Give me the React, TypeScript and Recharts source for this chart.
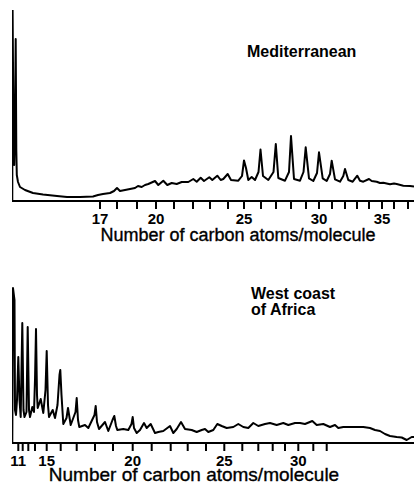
import React from 'react';
import { LineChart, Line, XAxis, YAxis } from 'recharts';

// Mediterranean trace: retention (arbitrary units) and detector signal
const medRt = [
  0.3, 0.6, 1.4, 2.2, 3.0, 3.7, 4.3, 4.8, 6, 8, 13, 21, 31, 45, 55, 68, 81, 86, 91, 98,
  102, 105, 108, 113, 118, 123, 126, 129.7, 133, 136.3, 143, 146.3, 151.3, 155.3, 159.7, 164.7, 169.7, 176.3, 181.3, 184.7,
  188.7, 192, 197.3, 200.3, 205.3, 208.7, 211.3, 215.7, 219, 226.3, 230, 232, 234, 236.3, 239.7, 243, 246.5, 248.5, 251, 256.3,
  261.5, 263.8, 266.3, 273, 277, 279, 282, 288, 291.5, 293.7, 297, 301.3, 305, 307, 310.7, 314.7, 318, 319.7, 323, 328,
  331.3, 333, 336.3, 340.7, 345.3, 348, 351.3, 357, 359.7, 364.7, 368, 371.3, 378, 382, 384.7, 391.3, 398, 402,
];
const medSignal = [
  0, 191, 81, 36, 81, 162, 51, 26, 19, 14, 11, 8, 6.5, 5, 4, 4, 4.5, 6, 7, 8,
  10, 13, 10, 11, 12, 13, 15, 14, 16, 17, 20, 16, 20.3, 16, 18, 17, 19, 19, 22, 19.3,
  23.3, 20, 23.7, 21, 25.3, 21, 22, 27, 21, 20.3, 25, 40.5, 33, 21, 24, 21, 29, 51.5, 25, 21,
  29, 57, 23, 20.3, 29, 65, 22, 20.3, 29, 53.7, 22.7, 20, 28, 48.7, 22.7, 20, 27, 40.3, 21.7, 19.3,
  25, 32, 21, 19.3, 25.3, 20.3, 19.3, 22, 20, 19.3, 18, 18.3, 16.7, 17.5, 17, 15.3, 15, 14.5,
];

// West coast of Africa trace
const wcaRt = [
  0.3, 1, 2.5, 3, 4, 5, 6.3, 7.5, 8.7, 10.3, 11.5, 12.5, 14.5, 15.7, 17, 18, 20.3, 22, 23, 24,
  25, 25.7, 28.7, 31.3, 33.5, 34.7, 36, 37, 40.7, 43, 45.5, 47.5, 48.3, 49.5, 51.3, 54.5, 56, 58.7, 63.5, 64.7,
  66, 67.3, 73, 76.3, 82.5, 83.7, 85, 87, 93, 96.3, 100.5, 102.3, 104, 105.3, 111.3, 116.3, 119.5, 120.7, 122, 124.7,
  128, 132, 134.7, 138.7, 143, 146.3, 151.3, 158, 161.3, 164.7, 169, 173, 179.7, 184.7, 189.7, 193, 196.3, 201.3, 205.3, 209.7,
  214.7, 221.3, 226.3, 231.3, 236.3, 241.3, 246.3, 253, 258, 264.7, 271.3, 276.3, 283, 288, 293, 300.3, 304.7, 311.3, 318, 323,
  326.3, 331.3, 338, 344.7, 351.3, 358, 363, 368, 373, 378, 384.7, 389.7, 394.7, 399.7, 402,
];
const wcaSignal = [
  0, 155, 143, 33, 28, 43, 86, 43, 26, 120, 33, 26, 31, 116, 33, 26, 36, 31, 63, 114,
  48, 35, 44, 30, 53, 92, 38, 26, 33, 25, 38, 68, 73, 48, 19, 25, 35, 18, 31, 45,
  23, 16, 18, 15, 28, 37, 21, 14, 21, 12, 23, 27, 17, 13, 14, 13, 19, 26, 15, 10,
  13, 20, 15, 19, 10, 11, 12, 17, 10, 14, 21, 14, 13, 11, 13, 14, 11, 13, 19, 17,
  15, 16, 19, 16, 15, 20, 17, 19, 20, 18, 20, 18, 20, 20, 19, 22, 18, 19, 16, 18,
  15, 16, 16, 16, 16, 15, 13, 12, 9, 7, 6, 5.5, 3, 6, 6,
];

// carbon-number ticks and where they fall on each retention axis
const medCarbon = [17, 18, 19, 20, 21, 22, 23, 24, 25, 26, 27, 28, 29, 30, 31, 32, 33, 34, 35, 36, 37];
const medCarbonRt = [88, 105, 125, 144, 162, 181, 198, 216, 232, 249, 264, 279, 294, 307, 320, 333, 345, 357, 370, 382, 396];
const medLabeled = [17, 20, 25, 30, 35];

const wcaCarbon = [11, 12, 13, 14, 15, 16, 17, 18, 19, 20, 21, 22, 23, 24, 25, 26, 27, 28, 29, 30, 31, 32];
const wcaCarbonRt = [6.3, 10.7, 16.3, 23, 34.7, 48.7, 64.7, 83, 101, 120.7, 139.7, 158.7, 175.7, 194, 212.3, 230.3, 246.3, 260.7, 273, 286.3, 301.3, 314.7];
const wcaLabeled = [11, 15, 20, 25, 30];

const AXIS_TITLE = 'Number of carbon atoms/molecule';
const FONT = '"Liberation Sans", Arial, sans-serif';
const INK = '#000';
const TICK_LEN = 8;
const TICK_GAP = 4;

const toRows = (rt: number[], signal: number[]) => rt.map((t, i) => ({ rt: t, signal: signal[i] }));

// only some carbon numbers carry a printed label
function CarbonLabel(props: any) {
  const { x, y, index, carbon, labeled } = props;
  const c = carbon[index];
  if (!labeled.includes(c)) return <g />;
  return (
    <text x={x} y={y} dy="0.71em" textAnchor="middle" fontFamily={FONT} fontSize={15} fontWeight={700} fill={INK}>
      {c}
    </text>
  );
}

function AxisTitle(props: any) {
  const { viewBox, shift, size, baseline } = props;
  const x = viewBox.x + viewBox.width / 2 + shift;
  return (
    <text x={x} y={viewBox.y + baseline} textAnchor="middle" fontFamily={FONT} fontSize={size} fill={INK} stroke={INK} strokeWidth={0.35}>
      {AXIS_TITLE}
    </text>
  );
}

interface PanelProps {
  rt: number[];
  signal: number[];
  carbon: number[];
  carbonRt: number[];
  labeled: number[];
  height: number;
  top: number;
  plotHeight: number;
  yMax: number;
  titleShift: number;
  titleSize: number;
  titleBaseline: number;
  children?: React.ReactNode;
}

const Panel: React.FC<PanelProps> = ({
  rt, signal, carbon, carbonRt, labeled, height, top, plotHeight, yMax, titleShift, titleSize, titleBaseline, children,
}) => (
  <LineChart width={414} height={height} data={toRows(rt, signal)} margin={{ top, right: 0, left: 12, bottom: 0 }}>
    <XAxis
      dataKey="rt"
      type="number"
      domain={[0, 402]}
      allowDataOverflow
      ticks={carbonRt}
      interval={0}
      height={height - top - plotHeight}
      tickSize={TICK_LEN}
      tickMargin={TICK_GAP}
      axisLine={{ stroke: INK, strokeWidth: 2 }}
      tickLine={{ stroke: INK, strokeWidth: 2 }}
      tick={<CarbonLabel carbon={carbon} labeled={labeled} />}
      label={<AxisTitle shift={titleShift} size={titleSize} baseline={titleBaseline} />}
    />
    <YAxis
      type="number"
      domain={[0, yMax]}
      allowDataOverflow
      width={0}
      tick={false}
      tickLine={false}
      axisLine={{ stroke: INK, strokeWidth: 2 }}
    />
    <Line
      dataKey="signal"
      type="linear"
      stroke={INK}
      strokeWidth={2}
      strokeLinejoin="round"
      dot={false}
      isAnimationActive={false}
    />
    {children}
  </LineChart>
);

const App: React.FC = () => (
  <div style={{ position: 'fixed', left: 0, top: 0, width: 414, height: 484, background: '#fff' }}>
    <div style={{ position: 'absolute', left: 0, top: 242 }}>
      <Panel
        rt={wcaRt}
        signal={wcaSignal}
        carbon={wcaCarbon}
        carbonRt={wcaCarbonRt}
        labeled={wcaLabeled}
        height={242}
        top={13}
        plotHeight={188}
        yMax={188}
        titleShift={-19}
        titleSize={19}
        titleBaseline={37.5}
      >
        <text fontFamily={FONT} fontSize={16} fontWeight={700} fill={INK}>
          <tspan x={251} y={57}>West coast</tspan>
          <tspan x={251} y={73}>of Africa</tspan>
        </text>
      </Panel>
    </div>
    <div style={{ position: 'absolute', left: 0, top: 0 }}>
      <Panel
        rt={medRt}
        signal={medSignal}
        carbon={medCarbon}
        carbonRt={medCarbonRt}
        labeled={medLabeled}
        height={248}
        top={10}
        plotHeight={191}
        yMax={191}
        titleShift={25}
        titleSize={18}
        titleBaseline={40}
      >
        <text x={247} y={57} fontFamily={FONT} fontSize={16} fontWeight={700} fill={INK}>
          Mediterranean
        </text>
      </Panel>
    </div>
  </div>
);

export default App;
